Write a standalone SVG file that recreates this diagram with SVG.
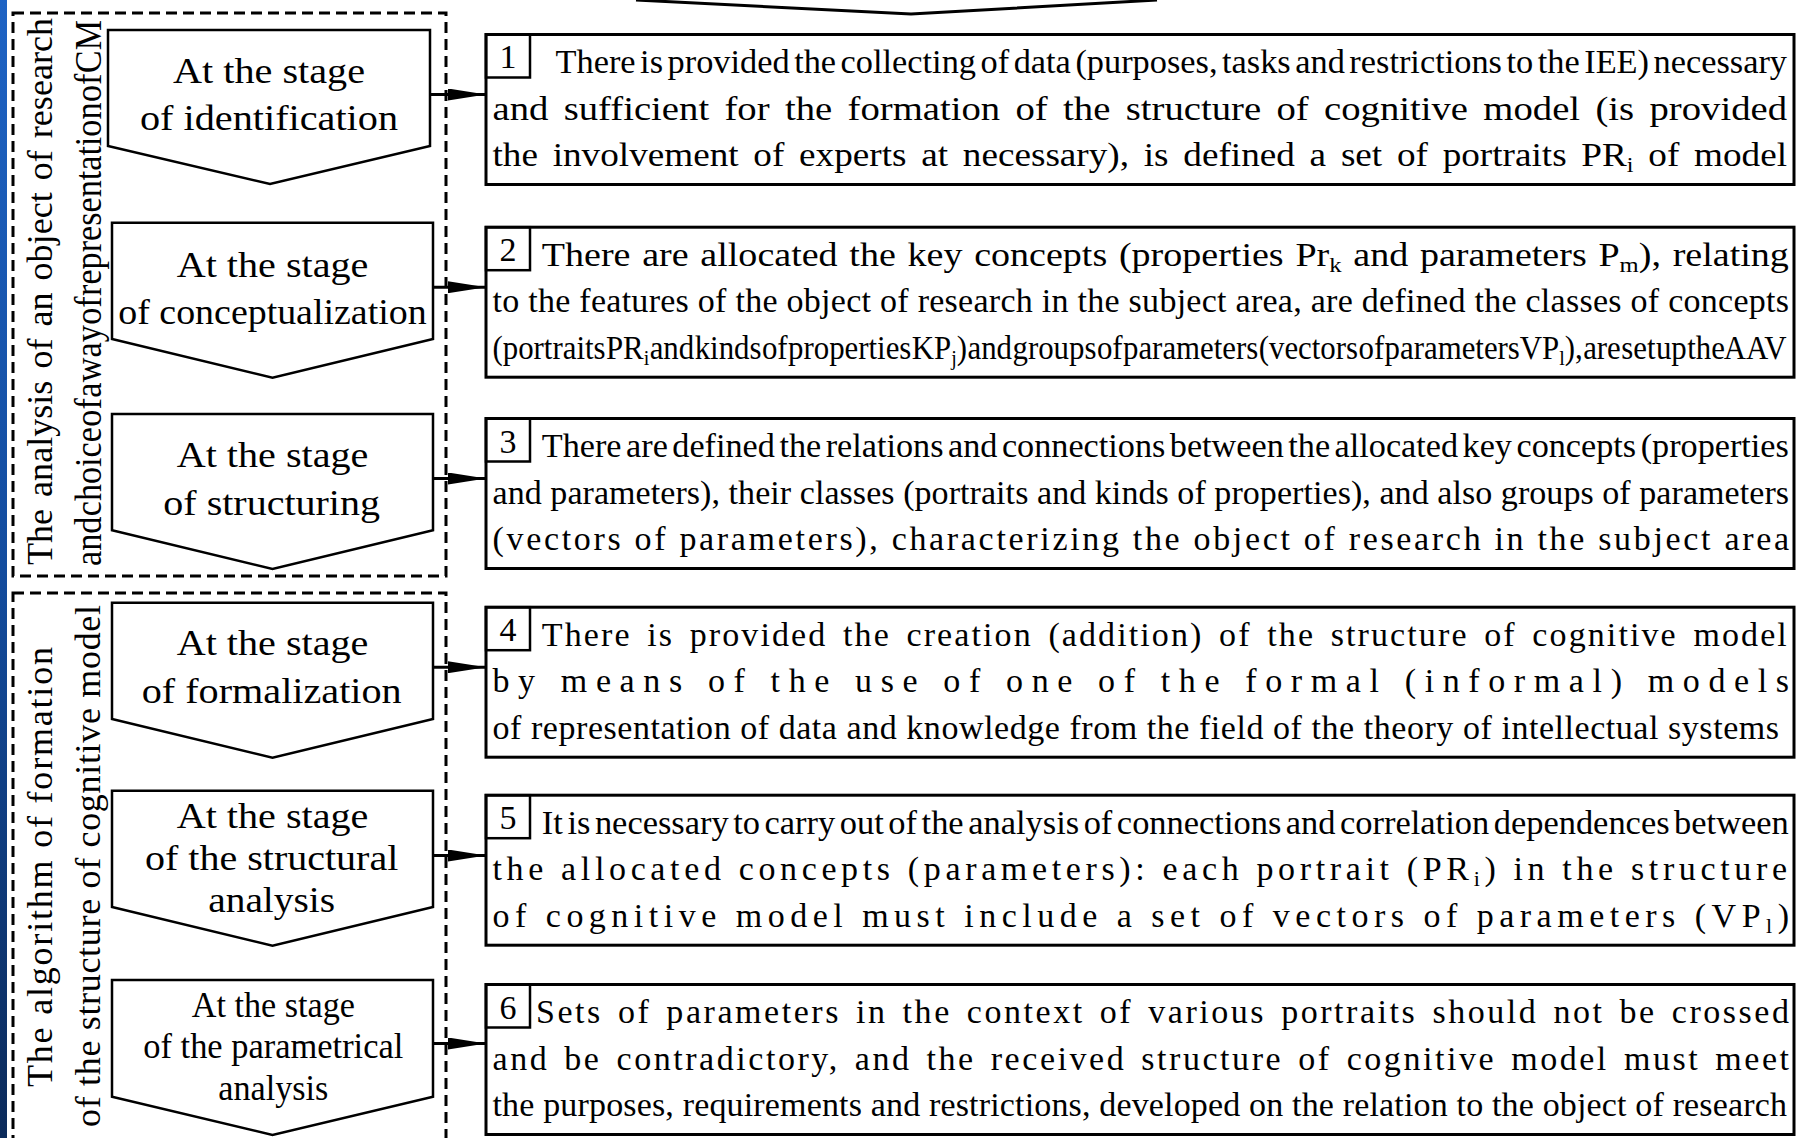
<svg xmlns="http://www.w3.org/2000/svg" width="1796" height="1138" viewBox="0 0 1796 1138">
<defs>
<linearGradient id="blue" x1="0" y1="0" x2="0" y2="1">
<stop offset="0" stop-color="#1e63c4"/>
<stop offset="0.5" stop-color="#134c9e"/>
<stop offset="1" stop-color="#0b2a5a"/>
</linearGradient>
<marker id="ah" markerUnits="userSpaceOnUse" markerWidth="38" markerHeight="12" refX="38" refY="6" orient="auto">
<path d="M0,0 L38,6 L0,12 z" fill="#000"/>
</marker>
<style>
.t{font-family:"Liberation Serif","Times New Roman",serif;font-size:34px;fill:#000}
.lbl{font-size:35px}
.side{font-size:36px}
.sub{font-size:22px}
.chev{fill:#fff;stroke:#000;stroke-width:2.5;stroke-linejoin:miter}
.box{fill:#fff;stroke:#000;stroke-width:3}
.num{fill:none;stroke:#000;stroke-width:2.5}
.dash{fill:none;stroke:#000;stroke-width:3;stroke-dasharray:11 6}
.conn{stroke:#000;stroke-width:3;fill:none;marker-end:url(#ah)}
</style>
</defs>
<rect x="0" y="0" width="1796" height="1138" fill="#fff"/>
<rect x="0" y="0" width="7" height="1138" fill="url(#blue)"/>

<!-- top partial chevron -->
<polyline points="636,0 911,14 1157,0" fill="none" stroke="#000" stroke-width="3"/>

<!-- group frames -->
<g id="group-analysis">
<rect class="dash" x="13" y="13" width="433" height="563"/>
<text class="t side" transform="translate(52,565) rotate(-90)" word-spacing="3" textLength="547" lengthAdjust="spacing">The analysis of an object of research</text>
<text class="t" style="font-size:38px" transform="translate(101,566) rotate(-90)" word-spacing="-9" textLength="546" lengthAdjust="spacingAndGlyphs">and choice of a way of representation of CM</text>
</g>
<g id="group-algorithm">
<rect class="dash" x="13" y="593" width="433" height="600"/>
<text class="t side" transform="translate(52,1087) rotate(-90)" textLength="440" lengthAdjust="spacing">The algorithm of formation</text>
<text class="t side" transform="translate(100,1127) rotate(-90)" textLength="522" lengthAdjust="spacing">of the structure of cognitive model</text>
</g>

<!-- stage nodes -->
<g id="stage-identification">
<polygon class="chev" points="108,30 430,30 430,146 270,184 108,146"/>
<text class="t lbl" x="173" y="82.7" textLength="192" lengthAdjust="spacingAndGlyphs">At the stage</text>
<text class="t lbl" x="140" y="130" textLength="258" lengthAdjust="spacingAndGlyphs">of identification</text>
</g>
<g id="stage-conceptualization">
<polygon class="chev" points="112,222.7 433,222.7 433,339 272.5,377.7 112,339"/>
<text class="t lbl" x="176.7" y="276.7" textLength="191.7" lengthAdjust="spacingAndGlyphs">At the stage</text>
<text class="t lbl" x="118.3" y="324" textLength="308.3" lengthAdjust="spacingAndGlyphs">of conceptualization</text>
</g>
<g id="stage-structuring">
<polygon class="chev" points="112,414 433,414 433,530.3 272.5,569 112,530.3"/>
<text class="t lbl" x="176.7" y="466.7" textLength="191.7" lengthAdjust="spacingAndGlyphs">At the stage</text>
<text class="t lbl" x="163.3" y="515" textLength="216.7" lengthAdjust="spacingAndGlyphs">of structuring</text>
</g>
<g id="stage-formalization">
<polygon class="chev" points="112,602.7 433,602.7 433,719 272.5,757.7 112,719"/>
<text class="t lbl" x="176.7" y="655" textLength="191.7" lengthAdjust="spacingAndGlyphs">At the stage</text>
<text class="t lbl" x="141.7" y="703.3" textLength="260" lengthAdjust="spacingAndGlyphs">of formalization</text>
</g>
<g id="stage-structural-analysis">
<polygon class="chev" points="112,790.7 433,790.7 433,907 272.5,945.7 112,907"/>
<text class="t lbl" x="176.7" y="828.3" textLength="191.7" lengthAdjust="spacingAndGlyphs">At the stage</text>
<text class="t lbl" x="145" y="870" textLength="253.3" lengthAdjust="spacingAndGlyphs">of the structural</text>
<text class="t lbl" x="208.3" y="911.7" textLength="126.7" lengthAdjust="spacingAndGlyphs">analysis</text>
</g>
<g id="stage-parametrical-analysis">
<polygon class="chev" points="112,980 433,980 433,1096.7 272.5,1135 112,1096.7"/>
<text class="t lbl" x="191.7" y="1016.7" textLength="163.3" lengthAdjust="spacingAndGlyphs">At the stage</text>
<text class="t lbl" x="143.3" y="1058.3" textLength="260" lengthAdjust="spacingAndGlyphs">of the parametrical</text>
<text class="t lbl" x="218.3" y="1100" textLength="110" lengthAdjust="spacingAndGlyphs">analysis</text>
</g>

<!-- description nodes -->
<g id="step-1">
<rect class="box" x="486" y="34.5" width="1308" height="150"/>
<rect class="num" x="486" y="34.5" width="44" height="43"/>
<text class="t" x="508" y="68" text-anchor="middle">1</text>
<text class="t" x="555.5" y="73" word-spacing="-4" textLength="1231.5" lengthAdjust="spacingAndGlyphs">There is provided the collecting of data (purposes, tasks and restrictions to the IEE) necessary</text>
<text class="t" x="492.5" y="119.5" word-spacing="5" textLength="1294.5" lengthAdjust="spacingAndGlyphs">and sufficient for the formation of the structure of cognitive model (is provided</text>
<text class="t" x="492.5" y="166" word-spacing="5" textLength="1294.5" lengthAdjust="spacingAndGlyphs">the involvement of experts at necessary), is defined a set of portraits PR<tspan class="sub" dy="6">i</tspan><tspan dy="-6"> of model</tspan></text>
</g>
<g id="step-2">
<rect class="box" x="486" y="227.2" width="1308" height="150"/>
<rect class="num" x="486" y="227.2" width="44" height="43"/>
<text class="t" x="508" y="261" text-anchor="middle">2</text>
<text class="t" x="541.8" y="265.7" word-spacing="2" textLength="1247" lengthAdjust="spacingAndGlyphs">There are allocated the key concepts (properties Pr<tspan class="sub" dy="6">k</tspan><tspan dy="-6"> and parameters P</tspan><tspan class="sub" dy="6">m</tspan><tspan dy="-6">), relating</tspan></text>
<text class="t" x="492.5" y="312.2" textLength="1296.5" lengthAdjust="spacing">to the features of the object of research in the subject area, are defined the classes of concepts</text>
<text class="t" x="492.5" y="358.7" word-spacing="-8" textLength="1294" lengthAdjust="spacingAndGlyphs">(portraits PR<tspan class="sub" dy="6">i</tspan><tspan dy="-6"> and kinds of properties KP</tspan><tspan class="sub" dy="6">j</tspan><tspan dy="-6">) and groups of parameters (vectors of parameters VP</tspan><tspan class="sub" dy="6">l</tspan><tspan dy="-6">), are set up the AAV</tspan></text>
</g>
<g id="step-3">
<rect class="box" x="486" y="418.5" width="1308" height="150"/>
<rect class="num" x="486" y="418.5" width="44" height="43"/>
<text class="t" x="508" y="452.5" text-anchor="middle">3</text>
<text class="t" x="541.8" y="457" word-spacing="-4" textLength="1247" lengthAdjust="spacingAndGlyphs">There are defined the relations and connections between the allocated key concepts (properties</text>
<text class="t" x="492.5" y="503.5" textLength="1296.5" lengthAdjust="spacing">and parameters), their classes (portraits and kinds of properties), and also groups of parameters</text>
<text class="t" x="492.5" y="550" textLength="1296.5" lengthAdjust="spacing">(vectors of parameters), characterizing the object of research in the subject area</text>
</g>
<g id="step-4">
<rect class="box" x="486" y="607.2" width="1308" height="150"/>
<rect class="num" x="486" y="607.2" width="44" height="43"/>
<text class="t" x="508" y="641" text-anchor="middle">4</text>
<text class="t" x="541.8" y="645.7" word-spacing="5" textLength="1245" lengthAdjust="spacing">There is provided the creation (addition) of the structure of cognitive model</text>
<text class="t" x="492.5" y="692.2" textLength="1296.5" lengthAdjust="spacing">by means of the use of one of the formal (informal) models</text>
<text class="t" x="492.5" y="738.7" textLength="1286.5" lengthAdjust="spacing">of representation of data and knowledge from the field of the theory of intellectual systems</text>
</g>
<g id="step-5">
<rect class="box" x="486" y="795.2" width="1308" height="150"/>
<rect class="num" x="486" y="795.2" width="44" height="43"/>
<text class="t" x="508" y="829" text-anchor="middle">5</text>
<text class="t" x="541.8" y="833.7" word-spacing="-4" textLength="1247" lengthAdjust="spacingAndGlyphs">It is necessary to carry out of the analysis of connections and correlation dependences between</text>
<text class="t" x="492.5" y="880.2" textLength="1294.5" lengthAdjust="spacing">the allocated concepts (parameters): each portrait (PR<tspan class="sub" dy="6">i</tspan><tspan dy="-6">) in the structure</tspan></text>
<text class="t" x="492.5" y="926.7" textLength="1296.5" lengthAdjust="spacing">of cognitive model must include a set of vectors of parameters (VP<tspan class="sub" dy="6">l</tspan><tspan dy="-6">)</tspan></text>
</g>
<g id="step-6">
<rect class="box" x="486" y="984.5" width="1308" height="150"/>
<rect class="num" x="486" y="984.5" width="44" height="43"/>
<text class="t" x="508" y="1018.5" text-anchor="middle">6</text>
<text class="t" x="536" y="1023" word-spacing="4" textLength="1253" lengthAdjust="spacing">Sets of parameters in the context of various portraits should not be crossed</text>
<text class="t" x="492.5" y="1069.5" word-spacing="4" textLength="1296.5" lengthAdjust="spacing">and be contradictory, and the received structure of cognitive model must meet</text>
<text class="t" x="492.5" y="1116" textLength="1294.5" lengthAdjust="spacing">the purposes, requirements and restrictions, developed on the relation to the object of research</text>
</g>

<!-- connectors -->
<g id="connectors">
<line class="conn" x1="430" y1="94.5" x2="486" y2="94.5"/>
<line class="conn" x1="433" y1="287.2" x2="486" y2="287.2"/>
<line class="conn" x1="433" y1="478.5" x2="486" y2="478.5"/>
<line class="conn" x1="433" y1="667.2" x2="486" y2="667.2"/>
<line class="conn" x1="433" y1="855.5" x2="486" y2="855.5"/>
<line class="conn" x1="433" y1="1043.5" x2="486" y2="1043.5"/>
</g>
</svg>
